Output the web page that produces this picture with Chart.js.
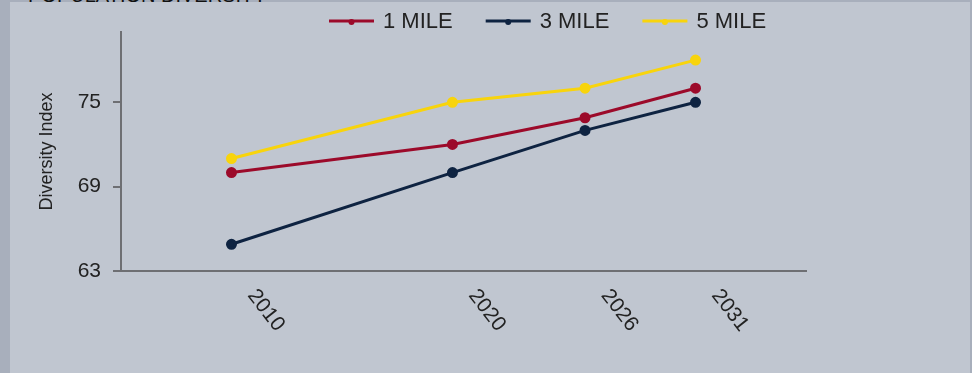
<!DOCTYPE html>
<html>
<head>
<meta charset="utf-8">
<script src="https://cdn.jsdelivr.net/npm/chart.js@4.4.1/dist/chart.umd.min.js"></script>
<style>
  html, body { margin:0; padding:0; }
  body { width:972px; height:373px; background:#c0c6d0; position:relative; overflow:hidden;
         font-family:"Liberation Sans",Arial,sans-serif; }
  .strip { position:absolute; left:0; top:0; width:10px; height:373px; background:#a8afbc; }
  .edge-top { position:absolute; left:0; top:0; width:972px; height:2px; background:#a8afbc; }
  .edge-right { position:absolute; right:0; top:0; width:2px; height:373px; background:#a8afbc; }
  .title { position:absolute; left:28px; top:-16px; font-size:20px; color:#111; white-space:nowrap; }
  .wrap { position:absolute; left:0; top:0; width:972px; height:373px; }
</style>
</head>
<body>
<div class="strip"></div>
<div class="edge-top"></div>
<div class="edge-right"></div>
<div class="title">POPULATION DIVERSITY</div>
<div class="wrap"><canvas id="chart" width="972" height="373"></canvas></div>
<script>
  // ==== dados ====
  const years   = [2010, 2020, 2026, 2031];
  const mile1   = [70.0, 72.0, 73.9, 76.0];
  const mile3   = [64.9, 70.0, 73.0, 75.0];
  const mile5   = [71.0, 75.0, 76.0, 78.0];
  const series  = ['1 MILE', '3 MILE', '5 MILE'];
  const colors  = ['#9c0a2a', '#0e2341', '#f8d40c'];
  const yTicks  = [63, 69, 75];

  const FONT = '"Liberation Sans",Arial,sans-serif';
  const TXT = '#222';

  const toPts = arr => arr.map((v, i) => ({ x: years[i], y: v }));

  // legenda + rótulos do eixo x (rotacionados no sentido horário)
  const customDraw = {
    id: 'customDraw',
    afterDraw(chart) {
      const ctx = chart.ctx;
      const xs = chart.scales.x;
      const bottom = chart.chartArea.bottom;

      ctx.save();
      ctx.font = '21px ' + FONT;
      ctx.fillStyle = TXT;
      ctx.textAlign = 'left';
      ctx.textBaseline = 'middle';
      years.forEach(y => {
        const px = xs.getPixelForValue(y);
        ctx.save();
        ctx.translate(px + 20, bottom + 21);
        ctx.rotate(52 * Math.PI / 180);
        ctx.fillText(String(y), 0, 0);
        ctx.restore();
      });

      // legenda
      let lx = 329;
      const ly = 21;
      ctx.font = '22px ' + FONT;
      series.forEach((name, i) => {
        ctx.strokeStyle = colors[i];
        ctx.lineWidth = 3;
        ctx.beginPath();
        ctx.moveTo(lx, ly);
        ctx.lineTo(lx + 45, ly);
        ctx.stroke();
        ctx.fillStyle = colors[i];
        ctx.beginPath();
        ctx.arc(lx + 22.5, ly + 1, 3, 0, Math.PI * 2);
        ctx.fill();
        ctx.fillStyle = TXT;
        ctx.fillText(name, lx + 54, ly + 1);
        lx += 54 + ctx.measureText(name).width + 33;
      });
      ctx.restore();
    }
  };

  const ds = [mile1, mile3, mile5].map((arr, i) => ({
    label: series[i],
    data: toPts(arr),
    borderColor: colors[i],
    backgroundColor: colors[i],
    borderWidth: 3,
    pointRadius: 4,
    pointHoverRadius: 4,
    tension: 0
  }));

  new Chart(document.getElementById('chart'), {
    type: 'line',
    data: { datasets: ds },
    options: {
      responsive: false,
      animation: false,
      devicePixelRatio: 1,
      layout: { padding: { left: 32, right: 166, top: 32, bottom: 0 } },
      plugins: { legend: { display: false }, tooltip: { enabled: false } },
      scales: {
        x: {
          type: 'linear',
          min: 2005, max: 2036,
          afterBuildTicks: s => { s.ticks = years.map(v => ({ value: v })); },
          afterFit: s => { s.height = 102; },
          ticks: { display: false },
          grid: { display: false },
          border: { display: true, color: '#6e6f73', width: 2 }
        },
        y: {
          min: 63, max: 80,
          afterBuildTicks: s => { s.ticks = yTicks.map(v => ({ value: v })); },
          afterFit: s => { s.width = 89; },
          ticks: { color: TXT, font: { family: FONT, size: 21 }, padding: 12 },
          grid: { drawOnChartArea: false, drawTicks: true, tickLength: 8, color: '#6e6f73', lineWidth: 2 },
          border: { display: true, color: '#6e6f73', width: 2 },
          title: { display: true, text: 'Diversity Index', color: TXT, font: { family: FONT, size: 18 }, padding: { top: 4, bottom: 4 } }
        }
      }
    },
    plugins: [customDraw]
  });
</script>
</body>
</html>
